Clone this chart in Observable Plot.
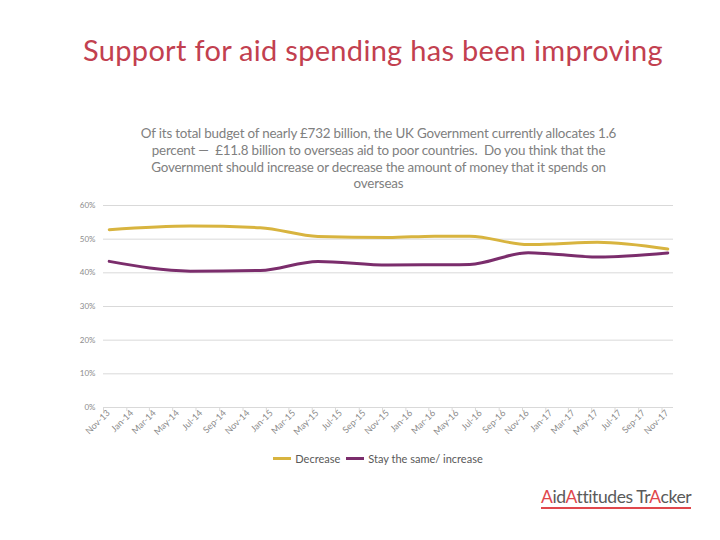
<!DOCTYPE html>
<html>
<head>
<meta charset="utf-8">
<script src="https://cdn.jsdelivr.net/npm/d3@7"></script>
<script src="https://cdn.jsdelivr.net/npm/@observablehq/plot@0.6"></script>
<style>
  html, body { margin: 0; padding: 0; background: #fff; }
  #page { position: relative; width: 720px; height: 540px; overflow: hidden; font-family: Lato, "Open Sans", sans-serif; }
  #title { position: absolute; left: 0; width: 746px; top: 32px; text-align: center; font-size: 29px; color: #C2404F; font-family: Lato, sans-serif; letter-spacing: 0.3px; }
  #subtitle { position: absolute; left: 0; width: 757px; top: 125px; text-align: center; font-size: 13.4px; line-height: 16.8px; color: #808080; letter-spacing: -0.2px; }
  #chart { position: absolute; left: 0; top: 190px; }
  #legend { position: absolute; left: 0; width: 756px; top: 449px; text-align: center; font-size: 11px; color: #595959; }
  #legend span.item { display: inline-flex; align-items: center; margin: 0 3px; }
  #legend span.sw { display: inline-block; width: 18px; height: 3px; margin-right: 4px; }
  #logo { position: absolute; left: 541px; top: 486px; font-size: 17.5px; color: #5a5a5a; letter-spacing: -0.4px; border-bottom: 2.5px solid #E0474C; line-height: 21px; padding-bottom: 0; }
  #logo b { color: #E0474C; font-weight: 400; }
</style>
</head>
<body>
<div id="page">
  <div id="title">Support for aid spending has been improving</div>
  <div id="subtitle">Of its total budget of nearly £732 billion, the UK Government currently allocates 1.6<br>percent — &nbsp;£11.8 billion to overseas aid to poor countries. &nbsp;Do you think that the<br>Government should increase or decrease the amount of money that it spends on<br>overseas</div>
  <div id="chart"></div>
  <div id="legend"></div>
  <div id="logo"><b>A</b>id<b>A</b>ttitudes Tr<b>A</b>cker</div>
</div>
<script>
const waves = ["Nov-13","Jun-14","Dec-14","May-15","Nov-15","Mar-16","Jun-16","Nov-16","Jan-17","May-17","Nov-17"];
const decrease = [52.8, 53.9, 53.4, 50.8, 50.5, 50.9, 50.9, 48.4, 48.6, 49.1, 47.1];
const stayIncrease = [43.4, 40.5, 40.7, 43.4, 42.3, 42.4, 42.5, 46.0, 45.6, 44.7, 45.9];
const seriesNames = ["Decrease", "Stay the same/ increase"];
const seriesColors = ["#D8B43F", "#7B2D6C"];
const tickLabels = ["Nov-13","Jan-14","Mar-14","May-14","Jul-14","Sep-14","Nov-14","Jan-15","Mar-15","May-15","Jul-15","Sep-15","Nov-15","Jan-16","Mar-16","May-16","Jul-16","Sep-16","Nov-16","Jan-17","Mar-17","May-17","Jul-17","Sep-17","Nov-17"];
const yTicks = [0, 10, 20, 30, 40, 50, 60];

const parse = d3.utcParse("%b-%y");
const fmt = d3.utcFormat("%b-%y");
const mid = s => { const d = parse(s); return new Date(Date.UTC(d.getUTCFullYear(), d.getUTCMonth(), 16)); };

const data = [];
waves.forEach((w, i) => {
  data.push({date: mid(w), value: decrease[i], series: seriesNames[0]});
  data.push({date: mid(w), value: stayIncrease[i], series: seriesNames[1]});
});
const tickDates = tickLabels.map(parse);
const first = tickDates[0];
const last = tickDates[tickDates.length - 1];
const domainEnd = new Date(Date.UTC(last.getUTCFullYear(), last.getUTCMonth() + 1, 1));

const chart = Plot.plot({
  width: 720,
  height: 265,
  marginTop: 15,
  marginBottom: 48,
  marginLeft: 103,
  marginRight: 47,
  style: {fontFamily: "Lato, sans-serif", background: "transparent"},
  x: {type: "utc", domain: [first, domainEnd]},
  y: {domain: [0, 60]},
  color: {domain: seriesNames, range: seriesColors},
  marks: [
    Plot.gridY(yTicks, {stroke: "#d9d9d9", strokeOpacity: 1, x1: first, x2: domainEnd}),
    Plot.axisY(yTicks, {tickSize: 0, tickPadding: 8, tickFormat: d => d + "%", fontSize: 8, fill: "#8c8c8c", label: null}),
    Plot.ruleY([0], {stroke: "#d9d9d9", strokeWidth: 1}),
    Plot.axisX(tickDates, {tickFormat: fmt, tickRotate: -45, tickSize: 4, stroke: "#d9d9d9", fill: null, label: null, text: null}),
    Plot.axisX(tickDates, {tickFormat: fmt, tickRotate: -45, tickSize: 0, fontSize: 9, fill: "#8c8c8c", tickPadding: 4, dx: 5, label: null}),
    Plot.line(data, {x: "date", y: "value", stroke: "series", strokeWidth: 3, curve: "monotone-x"})
  ]
});
document.getElementById("chart").appendChild(chart);

const legend = document.getElementById("legend");
seriesNames.forEach((n, i) => {
  const item = document.createElement("span");
  item.className = "item";
  const sw = document.createElement("span");
  sw.className = "sw";
  sw.style.background = seriesColors[i];
  item.appendChild(sw);
  item.appendChild(document.createTextNode(n));
  legend.appendChild(item);
});
</script>
</body>
</html>
